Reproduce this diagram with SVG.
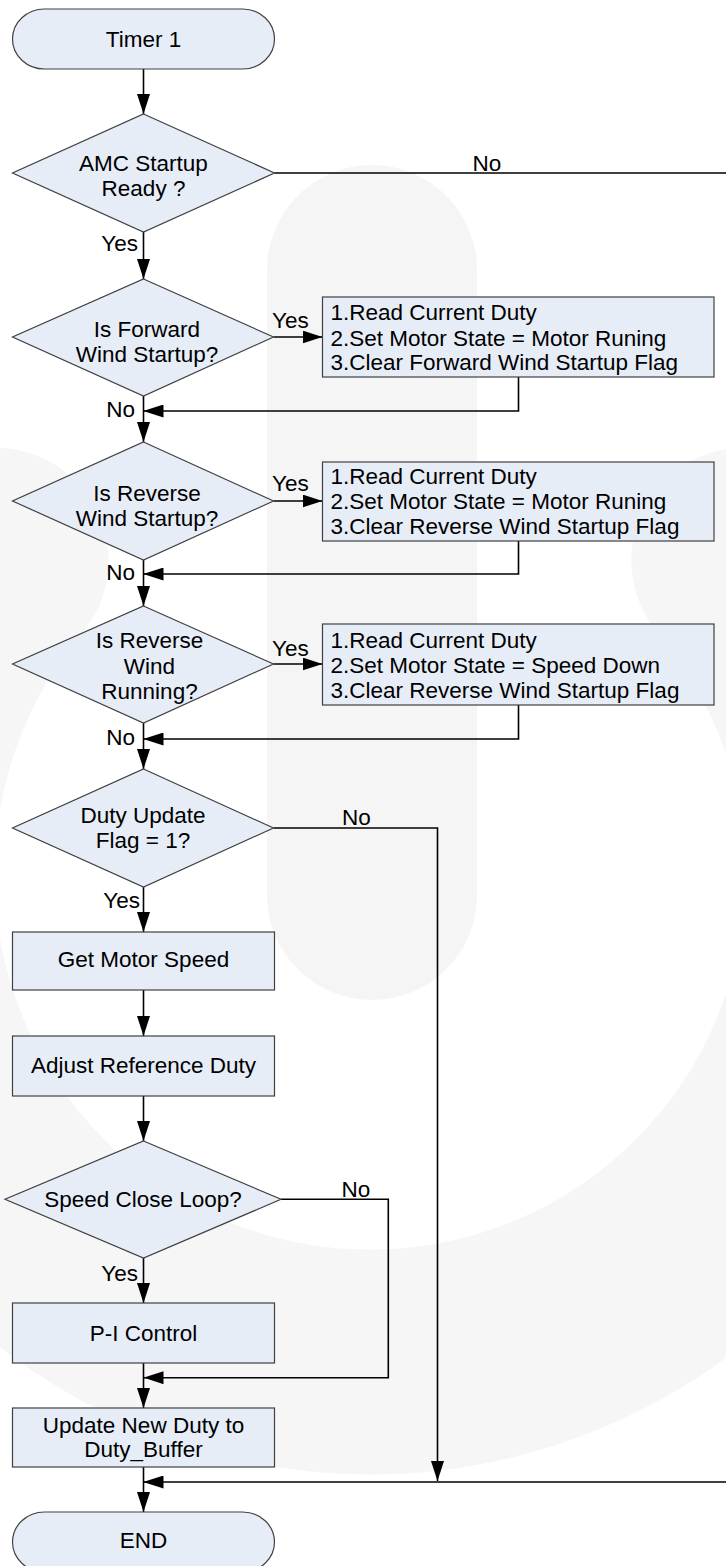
<svg xmlns="http://www.w3.org/2000/svg" width="726" height="1566" viewBox="0 0 726 1566">
  <style>
    .node { fill: #e7edf7; stroke: #404040; stroke-width: 1.2; }
    .txt { font-family: "Liberation Sans", Arial, sans-serif; font-size: 22.5px; fill: #000; }
    .mid { text-anchor: middle; }
    .end { text-anchor: end; }
    .wire { fill: none; stroke: #000; stroke-width: 1.6; }
    .mark { fill: #f5f5f5; }
  </style>
  <defs>
    <marker id="arrow" markerUnits="userSpaceOnUse" markerWidth="20" markerHeight="13" refX="20" refY="6.5" orient="auto">
      <path d="M0,0 L20,6.5 L0,13 z" fill="#000"/>
    </marker>
  </defs>

  <rect width="726" height="1566" fill="#fff"/>

  <!-- faint background emblem -->
  <g id="emblem">
    <path d="M743.8,560.3 A488,488 0 1 1 -3.8,560.3" fill="none" stroke="#f6f6f6" stroke-width="225" stroke-linecap="round"/>
    <rect class="mark" x="267" y="165" width="210" height="835" rx="105"/>
  </g>

  <!-- connectors -->
  <g id="connectors">
    <line class="wire" x1="143.5" y1="69" x2="143.5" y2="114" marker-end="url(#arrow)"/>
    <line class="wire" x1="143.5" y1="232" x2="143.5" y2="279" marker-end="url(#arrow)"/>
    <line class="wire" x1="143.5" y1="396" x2="143.5" y2="442" marker-end="url(#arrow)"/>
    <line class="wire" x1="143.5" y1="560" x2="143.5" y2="606" marker-end="url(#arrow)"/>
    <line class="wire" x1="143.5" y1="723" x2="143.5" y2="769" marker-end="url(#arrow)"/>
    <line class="wire" x1="143.5" y1="887" x2="143.5" y2="932" marker-end="url(#arrow)"/>
    <line class="wire" x1="143.5" y1="990" x2="143.5" y2="1036" marker-end="url(#arrow)"/>
    <line class="wire" x1="143.5" y1="1096" x2="143.5" y2="1141" marker-end="url(#arrow)"/>
    <line class="wire" x1="143.5" y1="1258" x2="143.5" y2="1303" marker-end="url(#arrow)"/>
    <line class="wire" x1="143.5" y1="1363" x2="143.5" y2="1408" marker-end="url(#arrow)"/>
    <line class="wire" x1="143.5" y1="1467" x2="143.5" y2="1512" marker-end="url(#arrow)"/>

    <!-- yes branches to side boxes -->
    <line class="wire" x1="273.5" y1="337" x2="322.5" y2="337" marker-end="url(#arrow)"/>
    <line class="wire" x1="273.5" y1="501" x2="322.5" y2="501" marker-end="url(#arrow)"/>
    <line class="wire" x1="273.5" y1="664" x2="322.5" y2="664" marker-end="url(#arrow)"/>

    <!-- returns from side boxes -->
    <path class="wire" d="M518.5,377 V411 H143.5" marker-end="url(#arrow)"/>
    <path class="wire" d="M518.5,541 V574 H143.5" marker-end="url(#arrow)"/>
    <path class="wire" d="M518.5,705 V739 H143.5" marker-end="url(#arrow)"/>

    <!-- no branches -->
    <path class="wire" d="M274.5,173 H745 V1482 H143.5" marker-end="url(#arrow)"/>
    <path class="wire" d="M273.5,828 H437.5 V1481" marker-end="url(#arrow)"/>
    <path class="wire" d="M281,1199.3 H388.3 V1377.7 H143.5" marker-end="url(#arrow)"/>
  </g>

  <!-- connector labels -->
  <g id="labels" class="txt">
    <text x="487" y="171" class="mid">No</text>
    <text x="138" y="251" class="end">Yes</text>
    <text x="272" y="328">Yes</text>
    <text x="135" y="417" class="end">No</text>
    <text x="272" y="491">Yes</text>
    <text x="135" y="580" class="end">No</text>
    <text x="272" y="656">Yes</text>
    <text x="135" y="745" class="end">No</text>
    <text x="356.5" y="825" class="mid">No</text>
    <text x="140" y="908" class="end">Yes</text>
    <text x="356" y="1197" class="mid">No</text>
    <text x="138" y="1280.5" class="end">Yes</text>
  </g>

  <g id="timer1">
    <rect class="node" x="12.5" y="9" width="262" height="60" rx="32" ry="30"/>
    <text class="txt mid" x="143.5" y="47">Timer 1</text>
  </g>

  <g id="amc-ready">
    <polygon class="node" points="143.5,114 274.5,173 143.5,232 12.5,173"/>
    <text class="txt mid" x="143.5" y="171">AMC Startup</text>
    <text class="txt mid" x="143.5" y="196">Ready ?</text>
  </g>

  <g id="forward-startup">
    <polygon class="node" points="143.5,279 273.5,337 143.5,396 12.5,337"/>
    <text class="txt mid" x="147" y="337">Is Forward</text>
    <text class="txt mid" x="147" y="361.5">Wind Startup?</text>
  </g>

  <g id="forward-actions">
    <rect class="node" x="322.5" y="297" width="391.5" height="80"/>
    <text class="txt" x="330.5" y="320">1.Read Current Duty</text>
    <text class="txt" x="330.5" y="346">2.Set Motor State = Motor Runing</text>
    <text class="txt" x="330.5" y="370">3.Clear Forward Wind Startup Flag</text>
  </g>

  <g id="reverse-startup">
    <polygon class="node" points="143.5,442 273.5,501 143.5,560 12.5,501"/>
    <text class="txt mid" x="147" y="501">Is Reverse</text>
    <text class="txt mid" x="147" y="526">Wind Startup?</text>
  </g>

  <g id="reverse-actions">
    <rect class="node" x="322.5" y="462" width="391.5" height="79"/>
    <text class="txt" x="330.5" y="484">1.Read Current Duty</text>
    <text class="txt" x="330.5" y="509">2.Set Motor State = Motor Runing</text>
    <text class="txt" x="330.5" y="534">3.Clear Reverse Wind Startup Flag</text>
  </g>

  <g id="reverse-running">
    <polygon class="node" points="143.5,606 273.5,664 143.5,723 12.5,664"/>
    <text class="txt mid" x="149.5" y="648">Is Reverse</text>
    <text class="txt mid" x="149.5" y="674">Wind</text>
    <text class="txt mid" x="149.5" y="699">Running?</text>
  </g>

  <g id="running-actions">
    <rect class="node" x="322.5" y="624" width="391.5" height="81"/>
    <text class="txt" x="330.5" y="648">1.Read Current Duty</text>
    <text class="txt" x="330.5" y="673">2.Set Motor State = Speed Down</text>
    <text class="txt" x="330.5" y="698">3.Clear Reverse Wind Startup Flag</text>
  </g>

  <g id="duty-update">
    <polygon class="node" points="143.5,769 273.5,828 143.5,887 12.5,828"/>
    <text class="txt mid" x="143" y="822.5">Duty Update</text>
    <text class="txt mid" x="143" y="847.5">Flag = 1?</text>
  </g>

  <g id="get-speed">
    <rect class="node" x="12.5" y="932" width="262" height="58"/>
    <text class="txt mid" x="143.5" y="967">Get Motor Speed</text>
  </g>

  <g id="adjust-duty">
    <rect class="node" x="12.5" y="1036" width="262" height="60"/>
    <text class="txt mid" x="143.5" y="1073">Adjust Reference Duty</text>
  </g>

  <g id="close-loop">
    <polygon class="node" points="143.5,1141 281,1199.3 143.5,1258 5,1199.3"/>
    <text class="txt mid" x="143" y="1206.5">Speed Close Loop?</text>
  </g>

  <g id="pi-control">
    <rect class="node" x="12.5" y="1303" width="262" height="60"/>
    <text class="txt mid" x="143.5" y="1340.5">P-I Control</text>
  </g>

  <g id="update-duty">
    <rect class="node" x="12.5" y="1408" width="262" height="59"/>
    <text class="txt mid" x="143.5" y="1432.5">Update New Duty to</text>
    <text class="txt mid" x="143.5" y="1457">Duty_Buffer</text>
  </g>

  <g id="end">
    <rect class="node" x="12.5" y="1512" width="262" height="60" rx="32" ry="30"/>
    <text class="txt mid" x="143.5" y="1548">END</text>
  </g>
</svg>
